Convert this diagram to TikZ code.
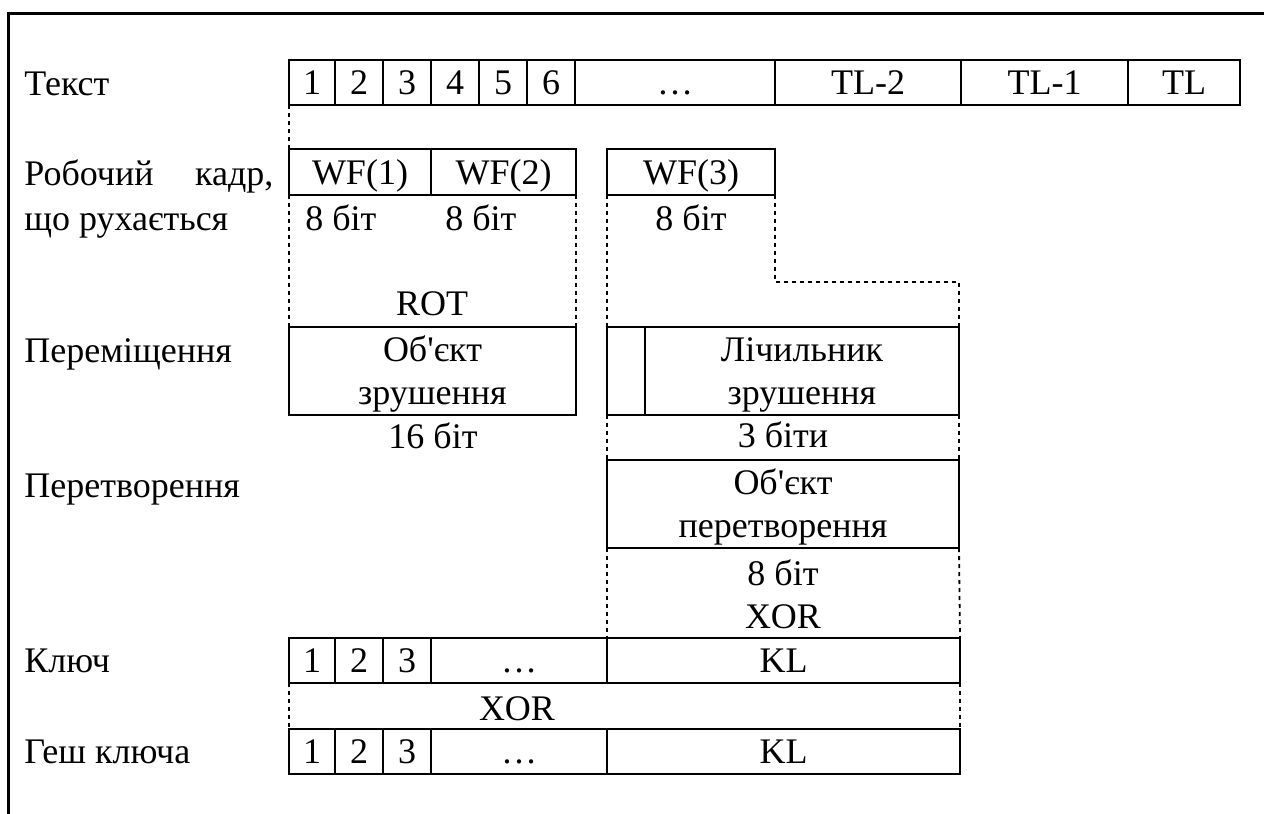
\documentclass[tikz,border=0pt]{standalone}
\usepackage{fontspec}
\setmainfont{Liberation Serif}
\newcommand\mkcell[7][cellbox]{%
  \pgfmathsetmacro\mkw{(#5-#3)*0.5}%
  \pgfmathsetmacro\mkh{(#6-#4)*0.5}%
  \node[#1, minimum width=\mkw pt, minimum height=\mkh pt, anchor=north west] (#2) at (#3,#4) {#7};}
\tikzset{
  cellbox/.style={draw, line width=0.9pt, inner sep=0pt, outer sep=0pt, text height=12pt, text depth=0pt},
  multicell/.style={draw, line width=0.9pt, inner sep=0pt, outer sep=0pt, align=center, text height=38.8pt, text depth=5.2pt},
  dashline/.style={line width=0.9pt, dash pattern=on 2pt off 2pt},
  frameline/.style={line width=1.5pt},
  lbl/.style={inner sep=0pt, anchor=base west},
  txt/.style={inner sep=0pt, anchor=base},
}
\begin{document}
\begin{tikzpicture}[x=0.5pt, y=-0.5pt, font=\fontsize{18}{21.5}\selectfont]
\useasboundingbox (0,0) rectangle (1264,814);
% frame
\draw[frameline] (8,814) -- (8,13) -- (1264,13);
% labels
\node[lbl] (lText) at (24,95) {Текст};
\node[lbl] (lWF) at (24,185) {\makebox[124.5pt][s]{Робочий кадр,}};
\node[lbl] (lWF2) at (24,230) {що рухається};
\node[lbl] (lMove) at (24,362) {Переміщення};
\node[lbl] (lConv) at (24,497) {Перетворення};
\node[lbl] (lKey) at (24,672) {Ключ};
\node[lbl] (lHash) at (24,763) {Геш ключа};
% text row
\mkcell{t1}{289}{60}{335}{105}{1}
\mkcell{t2}{335}{60}{383}{105}{2}
\mkcell{t3}{383}{60}{431}{105}{3}
\mkcell{t4}{431}{60}{479}{105}{4}
\mkcell{t5}{479}{60}{527}{105}{5}
\mkcell{t6}{527}{60}{575}{105}{6}
\mkcell{tdots}{575}{60}{775}{105}{…}
\mkcell{t7}{775}{60}{961}{105}{TL-2}
\mkcell{t8}{961}{60}{1128}{105}{TL-1}
\mkcell{t9}{1128}{60}{1240}{105}{TL}
% working frame row
\mkcell{wf1}{289}{149}{431}{195}{WF(1)}
\mkcell{wf2}{431}{149}{576}{195}{WF(2)}
\mkcell{wf3}{607}{149}{775}{195}{WF(3)}
\node[lbl] (b1) at (305,230) {8 біт};
\node[lbl] (b2) at (445,230) {8 біт};
\node[txt] (b3) at (691,230) {8 біт};
% shift row
\node[txt] (rot) at (432,315) {ROT};
\mkcell[multicell]{obj1}{289}{327}{576}{415}{Об\textquotesingle єкт\\зрушення}
\mkcell[cellbox]{cnt0}{607}{327}{645}{415}{}
\mkcell[multicell]{cnt}{645}{327}{959}{415}{Лічильник\\зрушення}
\node[txt] (b16) at (433,448) {16 біт};
\node[txt] (b3b) at (783,447) {3 біти};
% conversion row
\mkcell[multicell]{obj2}{607}{460}{959}{548}{Об\textquotesingle єкт\\перетворення}
\node[txt] (b8) at (783,585) {8 біт};
\node[txt] (xor1) at (783,628) {XOR};
% key row
\mkcell{k1}{289}{638}{335}{683}{1}
\mkcell{k2}{335}{638}{383}{683}{2}
\mkcell{k3}{383}{638}{431}{683}{3}
\mkcell{kdots}{431}{638}{607}{683}{…}
\mkcell{kl}{607}{638}{960}{683}{KL}
\node[txt] (xor2) at (517,720) {XOR};
% hash row
\mkcell{h1}{289}{729}{335}{774}{1}
\mkcell{h2}{335}{729}{383}{774}{2}
\mkcell{h3}{383}{729}{431}{774}{3}
\mkcell{hdots}{431}{729}{607}{774}{…}
\mkcell{hl}{607}{729}{960}{774}{KL}
% dashed connectors
\draw[dashline] (t1.south west) -- (wf1.north west);
\draw[dashline] (wf1.south west) -- (obj1.north west);
\draw[dashline] (wf2.south east) -- (obj1.north east);
\draw[dashline] (wf3.south west) -- (cnt0.north west);
\coordinate (c1) at (775,282);
\coordinate (c2) at (959,282);
\draw[dashline] (wf3.south east) -- (c1) -- (c2) -- (cnt.north east);
\draw[dashline] (cnt0.south west) -- (obj2.north west);
\draw[dashline] (cnt.south east) -- (obj2.north east);
\draw[dashline] (obj2.south west) -- (kl.north west);
\draw[dashline] (obj2.south east) -- (kl.north east);
\draw[dashline] (k1.south west) -- (h1.north west);
\draw[dashline] (kl.south east) -- (hl.north east);
\end{tikzpicture}
\end{document}
